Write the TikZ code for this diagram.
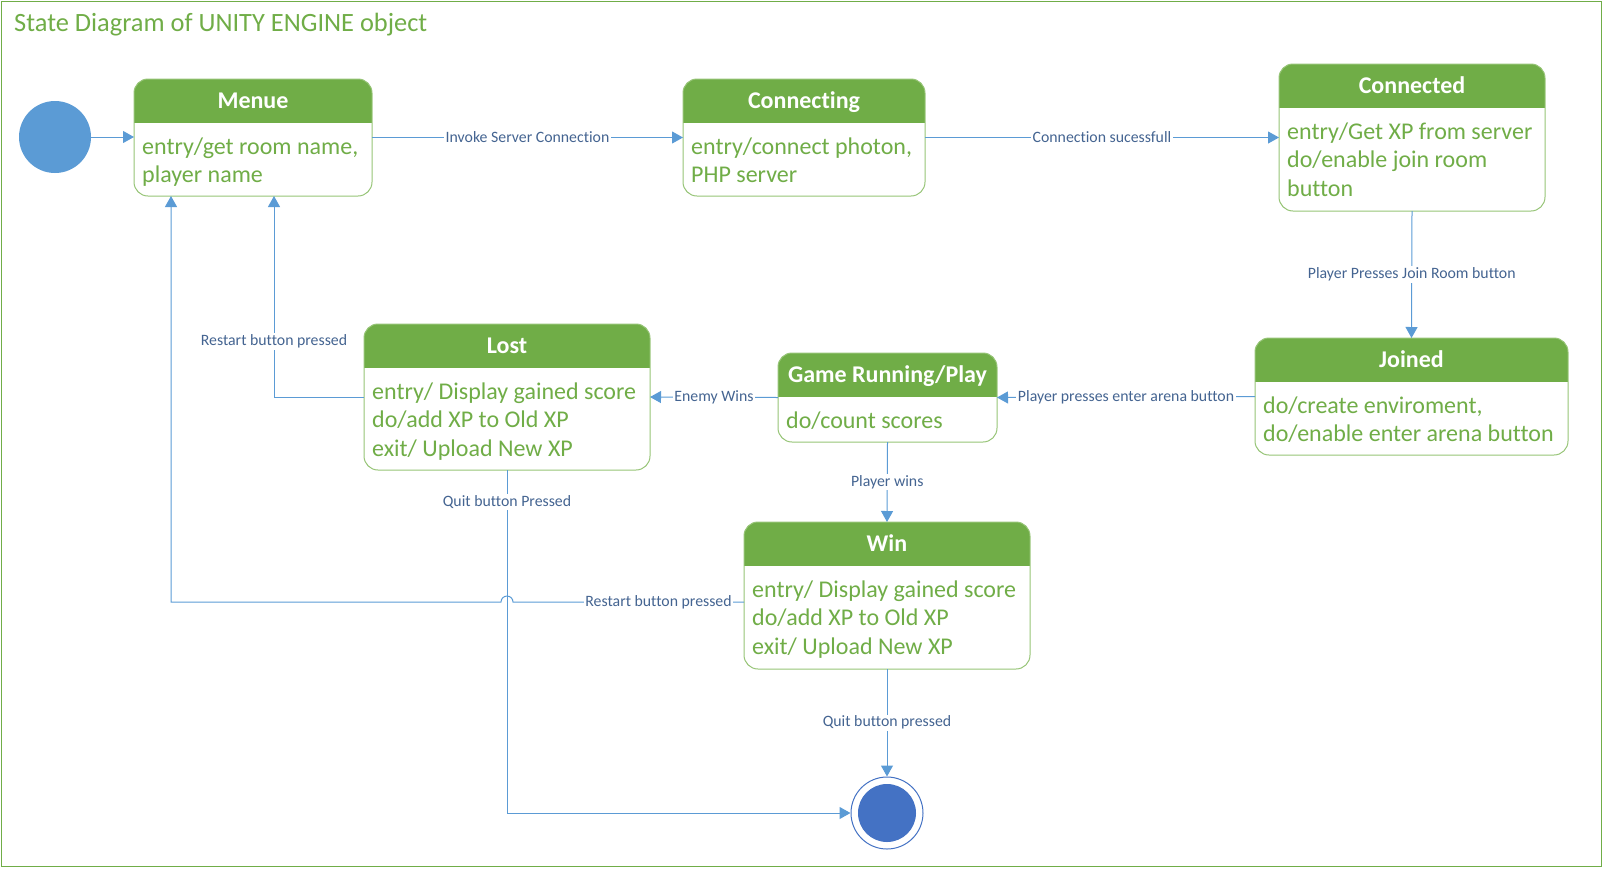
\documentclass[tikz,border=0pt]{standalone}
\usepackage{fontspec}
\setmainfont{Carlito}[Ligatures=NoCommon]
\usetikzlibrary{arrows.meta,calc}

\definecolor{umlgreen}{RGB}{112,173,71}
\definecolor{boxline}{RGB}{150,196,118}
\definecolor{flow}{RGB}{91,155,213}
\definecolor{flowtext}{RGB}{68,100,145}
\definecolor{endblue}{RGB}{68,114,196}

\tikzset{
  statebox/.style={rectangle, fill=white, inner sep=0pt, outer sep=0pt, anchor=north west},
  headtext/.style={text=white, font=\fontsize{24}{28}\selectfont\bfseries, inner sep=0pt, anchor=base},
  bodytext/.style={text=umlgreen, font=\fontsize{24}{28.5}\selectfont, inner sep=0pt, anchor=base west},
  flowline/.style={draw=flow, line width=1pt, -{Triangle[length=11pt,width=12pt]}},
  edgelabel/.style={fill=white, text=flowtext, font=\fontsize{15.8}{18}\selectfont, inner sep=1.5pt},
}

% #1 name, #2 left, #3 top, #4 right, #5 bottom, #6 header bottom, #7 title, #8 activities
\newcommand{\umlstate}[8]{%
  \node[statebox, minimum width={(#4-#2)*1pt}, minimum height={(#5-#3)*1pt}] (#1) at (#2,#3) {};
  \begin{scope}
    \clip[rounded corners=14pt] (#1.north west) rectangle (#1.south east);
    \fill[umlgreen] (#1.north west) rectangle (#4,#6);
  \end{scope}
  \draw[boxline, line width=1pt, rounded corners=14pt] (#1.north west) rectangle (#1.south east);
  \node[headtext] (#1-title) at ({(#2+#4)/2},{#6-14.5}) {#7};
  \node[bodytext] (#1-body) at ({#2+8},{#6+31}) {\begin{tabular}[t]{@{}l@{}}#8\end{tabular}};
}

\begin{document}
\begin{tikzpicture}[x=1pt,y=-1pt]
\useasboundingbox (0,0) rectangle (1603,868);
\draw[umlgreen, line width=1pt] (1.5,1.5) rectangle (1601,866.5);

\node[text=umlgreen, font=\fontsize{26.4}{31}\selectfont, anchor=base west, inner sep=0pt] (title) at (14,31) {State Diagram of UNITY ENGINE object};

% initial and final pseudo-states
\node[circle, fill=flow, minimum size=72pt, inner sep=0pt] (init) at (55,137) {};
\node[circle, draw=endblue, line width=1pt, fill=white, minimum size=72pt, inner sep=0pt] (final) at (887,813) {};
\node[circle, fill=endblue, minimum size=58pt, inner sep=0pt] (finalcore) at (final) {};

% states
\umlstate{menue}{134}{79}{372}{196}{123}{Menue}{entry/get room name,\\player name}
\umlstate{connecting}{683}{79}{925}{196}{123}{Connecting}{entry/connect photon,\\PHP server}
\umlstate{connected}{1279}{64}{1545}{211}{108}{Connected}{entry/Get XP from server\\do/enable join room\\button}
\umlstate{joined}{1255}{338}{1568}{455}{382}{Joined}{do/create enviroment,\\do/enable enter arena button}
\umlstate{game}{778}{353}{997}{442}{397}{Game Running/Play}{do/count scores}
\umlstate{lost}{364}{324}{650}{470}{368}{Lost}{entry/ Display gained score\\do/add XP to Old XP\\exit/ Upload New XP}
\umlstate{win}{744}{522}{1030}{669}{566}{Win}{entry/ Display gained score\\do/add XP to Old XP\\exit/ Upload New XP}

% entry points on the bottom of Menue
\coordinate (menueA) at ($(menue.south west)+(37,0)$);
\coordinate (menueB) at ($(menue.south west)+(140,0)$);

% transitions
\draw[flowline] (init.east) -- (init.east -| menue.west);
\draw[flowline] (menue.east) -- node[edgelabel]{Invoke Server Connection} (connecting.west);
\draw[flowline] (connecting.east) -- node[edgelabel]{Connection sucessfull} (connected.west);
\draw[flowline] (connected.south) -- node[edgelabel]{Player Presses Join Room button} (joined.north);
\draw[flowline] (joined.west) -- node[edgelabel]{Player presses enter arena button} (game.east);
\draw[flowline] (game.west) -- node[edgelabel]{Enemy Wins} (lost.east);
\draw[flowline] (game.south) -- node[edgelabel]{Player wins} (win.north);
\draw[flowline] (win.south) -- node[edgelabel]{Quit button pressed} (final.north);
\draw[flowline] (lost.west) -| node[edgelabel, pos=0.638]{Restart button pressed} (menueB);
\draw[flowline] (lost.south) |- node[edgelabel, pos=0.047]{Quit button Pressed} (final.west);

% restart from Win, hopping over the quit line of Lost
\coordinate (winR) at ($(win.west)+(0,6.5)$);
\coordinate (hopR) at ($(lost.south |- winR)+(6,0)$);
\draw[flowline] (winR) -- node[edgelabel, pos=0.37]{Restart button pressed} (hopR)
  arc[start angle=0, end angle=180, radius=6pt] -- (menueA |- winR) -- (menueA);
\end{tikzpicture}
\end{document}
